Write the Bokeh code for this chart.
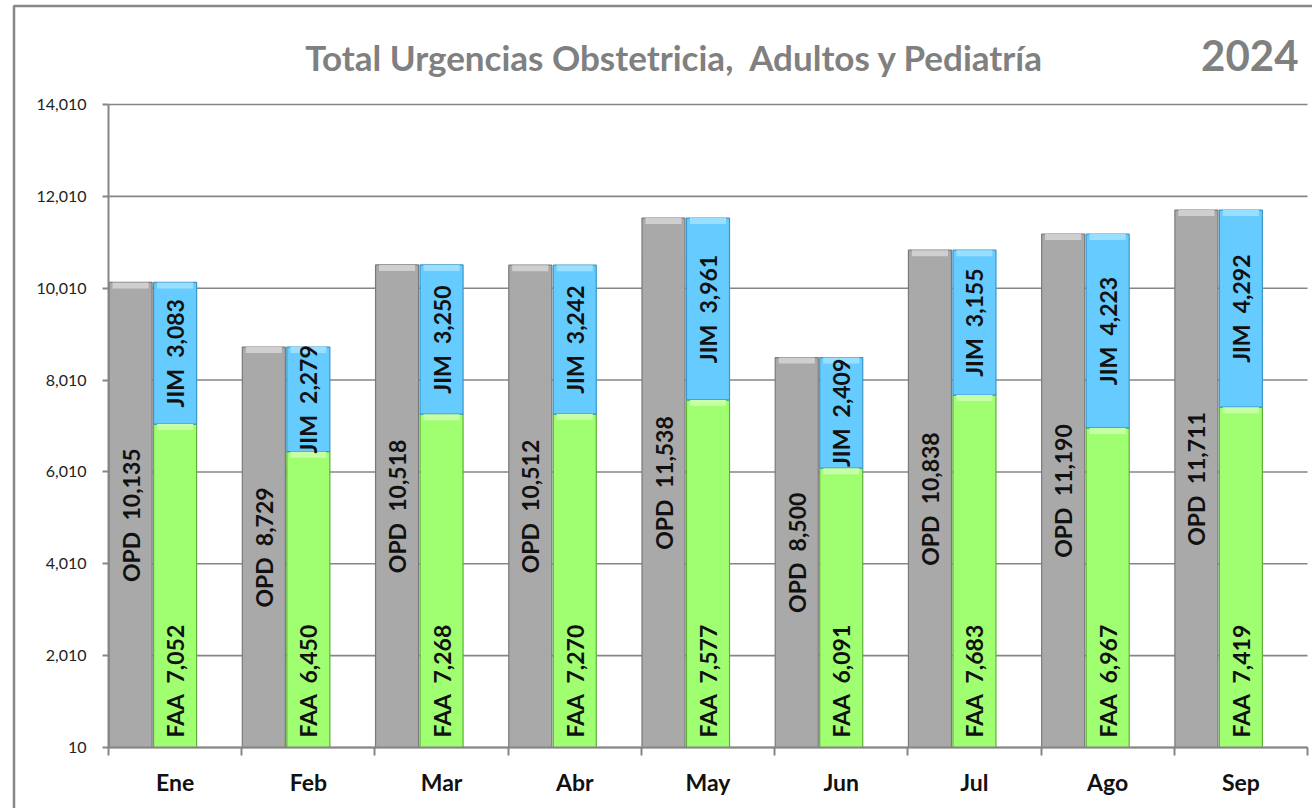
import math
from bokeh.plotting import figure
from bokeh.models import (FixedTicker, NumeralTickFormatter, ColumnDataSource, Range1d,
                          LinearAxis)
from bokeh.core.properties import value
from bokeh.embed import file_html
from bokeh.resources import INLINE

months = ["Ene", "Feb", "Mar", "Abr", "May", "Jun", "Jul", "Ago", "Sep"]
opd = [10135, 8729, 10518, 10512, 11538, 8500, 10838, 11190, 11711]
faa = [7052, 6450, 7268, 7270, 7577, 6091, 7683, 6967, 7419]
jim = [3083, 2279, 3250, 3242, 3961, 2409, 3155, 4223, 4292]
y_ticks = [10, 2010, 4010, 6010, 8010, 10010, 12010, 14010]
title_text = "Total Urgencias Obstetricia,\u00a0\u00a0Adultos y Pediatría"
year_text = "2024"

# ---- layout geometry (pixels) ----
W, H = 1312, 808
PL, PR, PT, PB = 108, 1307, 104, 747        # plot area edges on the page
n = len(months)
y0, y1 = y_ticks[0], y_ticks[-1]
px_x = (PR - PL) / n                        # px per category
px_y = (PB - PT) / (y1 - y0)                # px per unit
def dx(px):  # canvas x -> data x
    return (px - PL) / px_x
def dy(py):  # canvas y -> data y
    return y0 + (PB - py) / px_y

p = figure(width=W, height=H, output_backend="svg", toolbar_location=None,
           x_range=Range1d(dx(0), dx(W)), y_range=Range1d(dy(H), dy(0)),
           x_axis_location=None, y_axis_location=None,
           min_border=0, min_border_left=0, min_border_right=0,
           min_border_top=0, min_border_bottom=0)
p.outline_line_color = None
p.background_fill_color = "white"
p.border_fill_color = "white"
p.xgrid.visible = False
p.ygrid.visible = False

bev = 6 / px_y
centers = [i + 0.5 for i in range(n)]
bw = 0.323
gray_x = [c - 0.334 for c in centers]
stack_x = centers
tot = [f + j for f, j in zip(faa, jim)]
SP = "\u00a0\u00a0"

src = ColumnDataSource(dict(
    gx=gray_x, sx=stack_x, opd=opd, faa=faa, jim=jim, tot=tot,
    opd_b=[o - bev for o in opd], faa_b=[f - bev for f in faa],
    tot_b=[t - bev for t in tot],
    opd_mid=[o / 2 for o in opd],
    jim_mid=[f + j / 2 for f, j in zip(faa, jim)],
    zero=[y0] * n,
    opd_lab=[f"OPD{SP}{v:,}" for v in opd],
    faa_lab=[f"FAA{SP}{v:,}" for v in faa],
    jim_lab=[f"JIM{SP}{v:,}" for v in jim],
))

# outer frame (left and top borders)
p.line(x=[dx(13.5), dx(13.5), dx(W + 20)], y=[dy(H + 20), dy(5.5), dy(5.5)],
       line_color="#878787", line_width=2.5)

# grid lines
p.segment(x0=[0] * len(y_ticks), x1=[n] * len(y_ticks), y0=y_ticks, y1=y_ticks,
          line_color="#868686", line_width=1.6)

# bars
p.vbar(x="gx", width=bw, bottom=y0, top="opd", source=src,
       fill_color="#A9A9A9", line_color="#7A7A7A", line_width=1.2)
p.vbar(x="sx", width=bw, bottom=y0, top="faa", source=src,
       fill_color="#A0FF70", line_color="#5FAF3A", line_width=1.2)
p.vbar(x="sx", width=bw, bottom="faa", top="tot", source=src,
       fill_color="#66CCFF", line_color="#3C96C8", line_width=1.2)

# bevel highlights at bar tops
p.vbar(x="gx", width=bw * 0.84, bottom="opd_b", top="opd", source=src,
       fill_color="#CFCFCF", line_color=None)
p.vbar(x="sx", width=bw * 0.84, bottom="faa_b", top="faa", source=src,
       fill_color="#C6FFA6", line_color=None)
p.vbar(x="sx", width=bw * 0.84, bottom="tot_b", top="tot", source=src,
       fill_color="#99DFFF", line_color=None)

lab_font = value("Lato")
common = dict(angle=math.pi / 2, text_font=lab_font, text_font_style="bold",
              text_font_size="23px", text_color="#111111", source=src)
p.text(x="gx", y="opd_mid", text="opd_lab", text_align="center",
       text_baseline="middle", **common)
p.text(x="sx", y="jim_mid", text="jim_lab", text_align="center",
       text_baseline="middle", **common)
p.text(x="sx", y="zero", text="faa_lab", text_align="left",
       text_baseline="middle", y_offset=-10, **common)

# axes
yax = LinearAxis(fixed_location=0, bounds=(y0, y1))
yax.ticker = FixedTicker(ticks=y_ticks)
yax.formatter = NumeralTickFormatter(format="0,0")
yax.axis_line_color = "#868686"
yax.axis_line_width = 2
yax.major_tick_line_color = "#868686"
yax.major_tick_line_width = 2
yax.major_tick_out = 6
yax.major_tick_in = 0
yax.minor_tick_line_color = None
yax.major_label_text_font = "Lato"
yax.major_label_text_font_size = "16px"
yax.major_label_text_color = "#222222"
yax.major_label_standoff = 16
p.add_layout(yax, "left")

xax = LinearAxis(fixed_location=y0, bounds=(0, n))
xax.ticker = FixedTicker(ticks=centers, minor_ticks=list(range(n + 1)))
xax.major_label_overrides = {c: m for c, m in zip(centers, months)}
xax.axis_line_color = "#868686"
xax.axis_line_width = 2
xax.major_tick_line_color = None
xax.major_tick_out = 0
xax.minor_tick_line_color = "#868686"
xax.minor_tick_line_width = 2
xax.minor_tick_out = 8
xax.minor_tick_in = 0
xax.major_label_text_font = "Lato"
xax.major_label_text_font_style = "bold"
xax.major_label_text_font_size = "23px"
xax.major_label_text_color = "#111111"
xax.major_label_standoff = 12
p.add_layout(xax, "below")

# titles
p.text(x=[dx(674)], y=[dy(56)], text=[title_text], text_font=lab_font,
       text_font_style="bold", text_font_size="35px", text_color="#808080",
       text_align="center", text_baseline="middle")
p.text(x=[dx(1298)], y=[dy(55)], text=[year_text], text_font=lab_font,
       text_font_style="bold", text_font_size="42px", text_color="#808080",
       text_align="right", text_baseline="middle")

open("out.html", "w").write(file_html(p, INLINE))
